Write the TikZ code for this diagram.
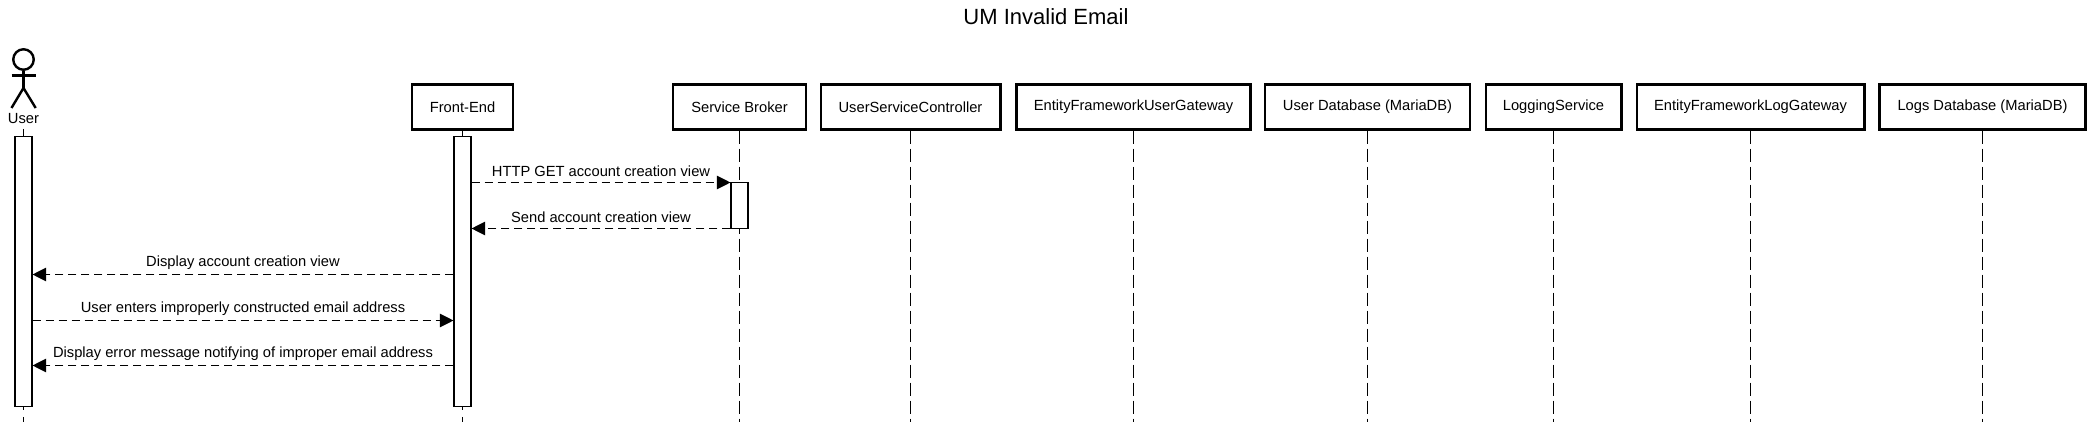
\documentclass[tikz,border=0pt]{standalone}
\usepackage{fontspec}
\setmainfont{Liberation Sans}
\usetikzlibrary{arrows.meta}
\tikzset{
  x=1pt,y=-1pt,
  partbox/.style={draw=black,line width=2.5pt,fill=white,inner sep=0pt,font=\fontsize{14.7}{16}\selectfont},
  lifeline/.style={draw=black,line width=1.1pt,dash pattern=on 13.5pt off 4.5pt},
  lifestub/.style={draw=black,line width=1.1pt},
  lifetail/.style={draw=black,line width=1.1pt,dash pattern=on 2.5pt off 7pt on 14pt off 4pt},
  actbar/.style={draw=black,line width=1.1pt,fill=white,inner sep=0pt},
  msg/.style={draw=black,line width=1.1pt,dash pattern=on 8pt off 5pt,-{Triangle[length=13.5pt,width=13.5pt]}},
  msglabel/.style={font=\fontsize{14.7}{16}\selectfont,inner sep=0pt,anchor=center},
  actorline/.style={draw=black,line width=2.4pt}
}
\newcommand{\partic}[4]{\node[partbox,minimum width=#3pt,minimum height=45pt] (#1) at (#2,106.8) {#4};}
\begin{document}
\begin{tikzpicture}
\useasboundingbox (0,0) rectangle (2093,422);
\fill[white] (0,0) rectangle (2093,422);
\node[font=\fontsize{22}{24}\selectfont,inner sep=0pt] (title) at (1046,17) {UM Invalid Email};
% actor
\node[draw=black,line width=2.4pt,circle,minimum size=20.5pt,inner sep=0pt] (head) at (23.5,59.5) {};
\coordinate (hip) at (23.5,88);
\coordinate (armL) at (11.7,75.5); \coordinate (armR) at (35.7,75.5);
\coordinate (legL) at (11.5,108); \coordinate (legR) at (35.7,108);
\draw[actorline] (head.south) -- (hip);
\draw[actorline] (armL) -- (armR);
\draw[actorline] (legL) -- (hip) -- (legR);
\node[msglabel] (user) at (23.5,119) {User};
% participants
\partic{fe}{462.5}{101}{Front-End}
\partic{sb}{739.5}{133}{Service Broker}
\partic{usc}{910.5}{179.5}{UserServiceController}
\partic{efu}{1133.5}{234}{EntityFrameworkUserGateway}
\partic{udb}{1367.5}{205}{User Database (MariaDB)}
\partic{log}{1553.5}{135.5}{LoggingService}
\partic{efl}{1750.5}{227.5}{EntityFrameworkLogGateway}
\partic{ldb}{1982.5}{206}{Logs Database (MariaDB)}
% lifeline ends
\coordinate (userTop) at (23.5,129);
\foreach \n/\x in {user/23.5,fe/462.5,sb/739.5,usc/910.5,efu/1133.5,udb/1367.5,log/1553.5,efl/1750.5,ldb/1982.5}
  \coordinate (\n End) at (\x,422);
\foreach \n in {sb,usc,efu,udb,log,efl,ldb}
  \draw[lifeline] (\n.south) -- (\n End);
% activations
\node[actbar,minimum width=17pt,minimum height=270pt] (actU) at (23.5,271.7) {};
\node[actbar,minimum width=17pt,minimum height=270pt] (actF) at (462.5,271.7) {};
\node[actbar,minimum width=17pt,minimum height=46pt] (actS) at (739.5,205.5) {};
\draw[lifestub] (userTop) -- (actU.north);
\draw[lifestub] (fe.south) -- (actF.north);
\draw[lifetail] (actU.south) -- (userEnd);
\draw[lifetail] (actF.south) -- (feEnd);
% messages
\coordinate (f1) at (actF.east |- 0,182.5); \coordinate (s1) at (actS.west |- 0,182.5);
\coordinate (s2) at (actS.west |- 0,228.5); \coordinate (f2) at (actF.east |- 0,228.5);
\coordinate (f3) at (actF.west |- 0,274.5); \coordinate (u3) at (actU.east |- 0,274.5);
\coordinate (u4) at (actU.east |- 0,320.5); \coordinate (f4) at (actF.west |- 0,320.5);
\coordinate (f5) at (actF.west |- 0,365.5); \coordinate (u5) at (actU.east |- 0,365.5);
\draw[msg] (f1) -- (s1) node[msglabel,midway,yshift=11.5pt] (m1) {HTTP GET account creation view};
\draw[msg] (s2) -- (f2) node[msglabel,midway,yshift=11.5pt] (m2) {Send account creation view};
\draw[msg] (f3) -- (u3) node[msglabel,midway,yshift=11.5pt] (m3) {Display account creation view};
\draw[msg] (u4) -- (f4) node[msglabel,midway,yshift=11.5pt] (m4) {User enters improperly constructed email address};
\draw[msg] (f5) -- (u5) node[msglabel,midway,yshift=11.5pt] (m5) {Display error message notifying of improper email address};
\end{tikzpicture}
\end{document}
